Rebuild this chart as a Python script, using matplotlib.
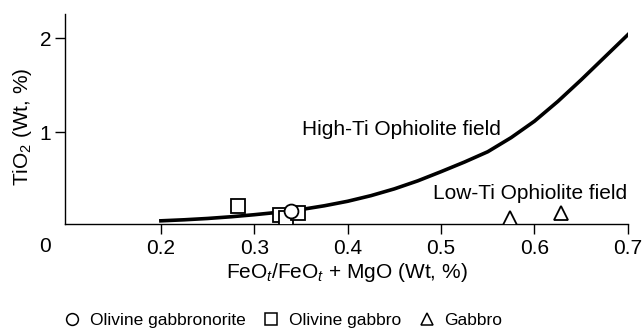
import numpy as np
import matplotlib
matplotlib.use("Agg")
import matplotlib.pyplot as plt
from matplotlib.lines import Line2D

plt.rcParams['font.family'] = ['Liberation Sans', 'DejaVu Sans']
plt.rcParams['mathtext.fontset'] = 'custom'
plt.rcParams['mathtext.rm'] = 'Liberation Sans'
plt.rcParams['mathtext.it'] = 'Liberation Sans:italic'

# boundary curve between high-Ti and low-Ti fields
curve_x = [0.200, 0.225, 0.250, 0.275, 0.300, 0.325, 0.350, 0.375, 0.400, 0.425, 0.450,
           0.475, 0.500, 0.525, 0.550, 0.575, 0.600, 0.625, 0.650, 0.675, 0.700]
curve_y = [0.060, 0.071, 0.085, 0.103, 0.125, 0.150, 0.180, 0.220, 0.268, 0.328, 0.400,
           0.485, 0.583, 0.685, 0.795, 0.945, 1.120, 1.330, 1.560, 1.800, 2.040]

# samples
gabbronorite_x = [0.339]
gabbronorite_y = [0.166]
ol_gabbro_x = [0.283, 0.328, 0.334, 0.347]
ol_gabbro_y = [0.216, 0.120, 0.094, 0.140]
gabbro_x = [0.574, 0.628]
gabbro_y = [0.088, 0.147]

fig = plt.figure(figsize=(6.44, 3.33), dpi=100)
ax = fig.add_axes([0.101, 0.327, 0.874, 0.631])

ax.plot(curve_x, curve_y, color='black', lw=2.6, zorder=2, solid_joinstyle='round')

mk = dict(markersize=10, markerfacecolor='white', markeredgecolor='black',
          markeredgewidth=1.3, linestyle='none')
ax.plot(ol_gabbro_x, ol_gabbro_y, marker='s', zorder=3, **mk)
ax.plot(gabbronorite_x, gabbronorite_y, marker='o', zorder=4, **mk)
ax.plot(gabbro_x, gabbro_y, marker='^', zorder=3, **mk)

ax.text(0.351, 1.035, 'High-Ti Ophiolite field', fontsize=15, va='center')
ax.text(0.491, 0.354, 'Low-Ti Ophiolite field', fontsize=15, va='center')

ax.set_xlim(0.0974, 0.7)
ax.set_ylim(0.025, 2.26)
ax.set_xticks([0.2, 0.3, 0.4, 0.5, 0.6, 0.7])
ax.set_xticklabels(['0.2', '0.3', '0.4', '0.5', '0.6', '0.7'])
ax.set_yticks([1, 2])
ax.set_yticklabels(['1', '2'])
ax.tick_params(direction='out', length=7, width=1, labelsize=15, pad=4)
ax.tick_params(axis='y', pad=3)
for s in ['top', 'right']:
    ax.spines[s].set_visible(False)
for s in ['left', 'bottom']:
    ax.spines[s].set_linewidth(1)

# origin label
fig.text(45 / 644, 1 - 247 / 333, '0', fontsize=15, ha='center', va='center')

ax.set_xlabel(r'FeO$_t$/FeO$_t$ + MgO (Wt, %)', fontsize=15, va='center')
ax.xaxis.set_label_coords(0.5, (224 - 272) / 210)
ax.set_ylabel(r'TiO$_2$ (Wt, %)', fontsize=15, va='center')
ax.yaxis.set_label_coords((22 - 65) / 563, (224 - 127) / 210)

handles = [
    Line2D([], [], marker='o', **{**mk, 'markersize': 8.5, 'markeredgewidth': 1.1}),
    Line2D([], [], marker='s', **{**mk, 'markersize': 8.5, 'markeredgewidth': 1.1}),
    Line2D([], [], marker='^', **{**mk, 'markersize': 8.5, 'markeredgewidth': 1.1}),
]
fig.legend(handles, ['Olivine gabbronorite', 'Olivine gabbro', 'Gabbro'],
           loc='center', bbox_to_anchor=(283 / 644, 1 - 320 / 333), ncol=3,
           frameon=False, fontsize=12.5, handlelength=1.0, handletextpad=0.5,
           columnspacing=1.0, borderpad=0)

fig.savefig('out.png', dpi=100)
